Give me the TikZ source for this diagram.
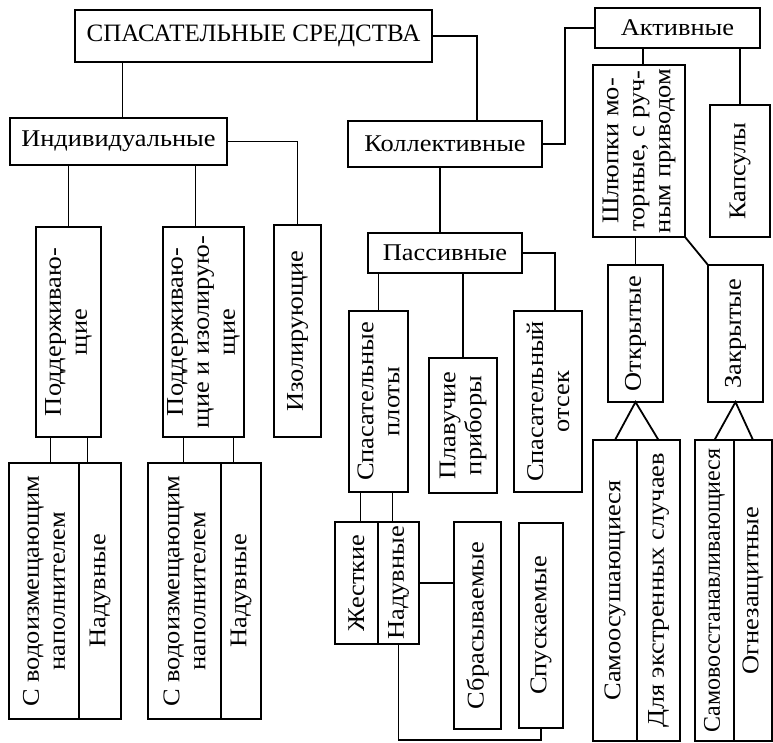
\documentclass[tikz,border=0pt]{standalone}
\usepackage{fontspec}
\setmainfont{Liberation Serif}
\newfontfamily\widefont{Liberation Serif}[FakeStretch=1.1]
\begin{document}
\begin{tikzpicture}[x=1pt, y=-1pt,
  box/.style={draw, line width=2.8pt, inner sep=0pt, outer sep=0pt, font=\widefont\fontsize{24}{26}\selectfont},
  half/.style={draw, line width=1.3pt, inner sep=0pt, outer sep=0pt},
  outer/.style={line width=2.8pt},
  vtext/.style={rotate=90, align=center, inner sep=0pt, font=\widefont\fontsize{24}{26}\selectfont},
  link/.style={line width=1.8pt}]
\useasboundingbox (0,0) rectangle (773,743);

% top level
\node[box, minimum width=357, minimum height=52, font=\rmfamily\fontsize{25}{27}\selectfont] (title) at (253.5,36) {СПАСАТЕЛЬНЫЕ СРЕДСТВА};
\node[box, minimum width=217, minimum height=47] (indiv) at (118.5,141.5) {Индивидуальные};
\node[box, minimum width=194, minimum height=46] (koll) at (445,144) {Коллективные};
\node[box, minimum width=165, minimum height=40] (aktiv) at (677.5,28) {Активные};

% individual
\node[box, minimum width=65, minimum height=210] (podd) at (68.5,332) {};
\node[vtext] (podd-t) at (podd) {Поддерживаю-\\щие};
\node[box, minimum width=81, minimum height=210] (poddiz) at (203.5,332) {};
\node[vtext] (poddiz-t) at (poddiz) {Поддерживаю-\\щие и изолирую-\\щие};
\node[box, minimum width=47, minimum height=212] (izol) at (297.5,331) {};
\node[vtext] (izol-t) at (izol) {Изолирующие};

\node[half, minimum width=70, minimum height=256] (vod1) at (44,591) {};
\node[half, minimum width=42, minimum height=256] (nad1) at (100,591) {};
\draw[outer] (vod1.north west) rectangle (nad1.south east);
\node[vtext] (vod1-t) at (vod1) {С водоизмещающим\\наполнителем};
\node[vtext] (nad1-t) at (nad1) {Надувные};

\node[half, minimum width=73, minimum height=256] (vod2) at (184.5,591) {};
\node[half, minimum width=40, minimum height=256] (nad2) at (241,591) {};
\draw[outer] (vod2.north west) rectangle (nad2.south east);
\node[vtext] (vod2-t) at (vod2) {С водоизмещающим\\наполнителем};
\node[vtext] (nad2-t) at (nad2) {Надувные};

% passive
\node[box, minimum width=154, minimum height=40] (passiv) at (445,253) {Пассивные};
\node[box, minimum width=59, minimum height=181] (plots) at (378.5,401.5) {};
\node[vtext] (plots-t) at (plots) {Спасательные\\плоты};
\node[box, minimum width=68, minimum height=135] (plav) at (463,425.5) {};
\node[vtext] (plav-t) at (plav) {Плавучие\\приборы};
\node[box, minimum width=68, minimum height=181] (otsek) at (548,401.5) {};
\node[vtext] (otsek-t) at (otsek) {Спасательный\\отсек};

\node[half, minimum width=43, minimum height=122] (zhest) at (356.5,583) {};
\node[half, minimum width=41, minimum height=122] (nad3) at (398.5,583) {};
\draw[outer] (zhest.north west) rectangle (nad3.south east);
\node[vtext] (zhest-t) at (zhest) {Жесткие};
\node[vtext] (nad3-t) at (nad3) {Надувные};
\node[box, minimum width=47, minimum height=207] (sbras) at (477.5,625.5) {};
\node[vtext] (sbras-t) at (sbras) {Сбрасываемые};
\node[box, minimum width=44, minimum height=205] (spusk) at (541,625.5) {};
\node[vtext] (spusk-t) at (spusk) {Спускаемые};

% active
\node[box, minimum width=92, minimum height=172] (shlup) at (639,151) {};
\node[vtext] (shlup-t) at (shlup) {Шлюпки мо-\\торные, с руч-\\ным приводом};
\node[box, minimum width=60, minimum height=132] (kaps) at (740,171) {};
\node[vtext] (kaps-t) at (kaps) {Капсулы};
\node[box, minimum width=55, minimum height=137] (otkr) at (635.5,333.5) {};
\node[vtext] (otkr-t) at (otkr) {Открытые};
\node[box, minimum width=55, minimum height=137] (zakr) at (735.5,333.5) {};
\node[vtext] (zakr-t) at (zakr) {Закрытые};

\node[half, minimum width=44, minimum height=301] (samoos) at (615,590.5) {};
\node[half, minimum width=43, minimum height=301] (ekstr) at (658.5,590.5) {};
\draw[outer] (samoos.north west) rectangle (ekstr.south east);
\node[vtext] (samoos-t) at (samoos) {Самоосушающиеся};
\node[vtext] (ekstr-t) at (ekstr) {Для экстренных случаев};

\node[half, minimum width=39, minimum height=301] (samovos) at (714.5,590.5) {};
\node[half, minimum width=38, minimum height=301] (ognez) at (753,590.5) {};
\draw[outer] (samovos.north west) rectangle (ognez.south east);
\node[vtext, font=\rmfamily\fontsize{24}{26}\selectfont] (samovos-t) at (samovos) {Самовосстанавливающиеся};
\node[vtext] (ognez-t) at (ognez) {Огнезащитные};

% links from the top
\draw[link] ([xshift=4]indiv.north) -- ([xshift=4]indiv.north |- title.south);
\draw[link] (title.east) -| ([xshift=32]koll.north);
\draw[link] (koll.east) -- ++(23,0) |- (aktiv.west);

% links, individual
\draw[link] (indiv.east) -| (izol.north);
\draw[link] (podd.north) -- (podd.north |- indiv.south);
\draw[link] ([xshift=-8]poddiz.north) -- ([xshift=-8]poddiz.north |- indiv.south);
\draw[link] ([xshift=-18]podd.south) -- ([xshift=-18]podd.south |- vod1.north);
\draw[link] ([xshift=19]podd.south) -- ([xshift=19]podd.south |- vod1.north);
\draw[link] ([xshift=-20]poddiz.south) -- ([xshift=-20]poddiz.south |- vod2.north);
\draw[link] ([xshift=30]poddiz.south) -- ([xshift=30]poddiz.south |- vod2.north);

% links, passive
\draw[link] ([xshift=-5]koll.south) -- ([xshift=-5]koll.south |- passiv.north);
\draw[link] (plots.north) -- (plots.north |- passiv.south);
\draw[link] (plav.north) -- (plav.north |- passiv.south);
\draw[link] (passiv.east) -| ([xshift=7]otsek.north);
\draw[link] ([xshift=-18]plots.south) -- ([xshift=-18]plots.south |- zhest.north);
\draw[link] ([xshift=14]plots.south) -- ([xshift=14]plots.south |- zhest.north);
\draw[link] (nad3.east) -- (nad3.east -| sbras.west);
\draw[link] (nad3.south) -- ++(0,96) -| (spusk.south);

% links, active
\draw[link] ([xshift=4]shlup.north) -- ([xshift=4]shlup.north |- aktiv.south);
\draw[link] (kaps.north) -- (kaps.north |- aktiv.south);
\draw[link] (otkr.north) -- (otkr.north |- shlup.south);
\draw[link] (shlup.south east) -- (zakr.north west);
\draw[link] (samoos.north) -- (otkr.south) -- (ekstr.north);
\draw[link] (samovos.north) -- (zakr.south) -- (ognez.north);
\end{tikzpicture}
\end{document}
